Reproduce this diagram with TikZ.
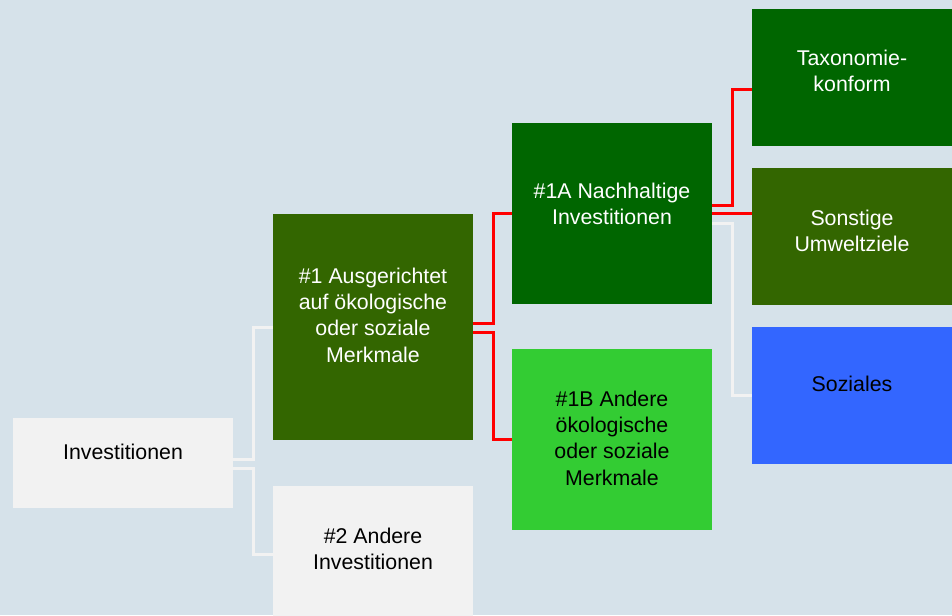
\documentclass[tikz,border=0pt]{standalone}
\usepackage{fontspec}
\setmainfont{Liberation Sans}
\usetikzlibrary{calc, positioning}

\definecolor{bgblue}{HTML}{D6E2EA}
\definecolor{lightgrey}{HTML}{F2F2F2}
\definecolor{olive}{HTML}{336600}
\definecolor{darkgreen}{HTML}{006600}
\definecolor{lightgreen}{HTML}{33CC33}
\definecolor{blue}{HTML}{3366FF}
\definecolor{redline}{HTML}{FF0000}

\begin{document}
\begin{tikzpicture}[x=0.75pt, y=-0.75pt,
  box/.style={inner sep=0pt, minimum width=150pt},
  tallbox/.style={box, minimum height=135.75pt},
  shortbox/.style={box, minimum height=102.75pt},
  txt/.style={align=center, font=\fontsize{16}{19.7}\selectfont},
  wtxt/.style={txt, text=white},
  wline/.style={draw=lightgrey, line width=2.25pt},
  rline/.style={draw=redline, line width=2.25pt}]
\useasboundingbox (0,0) rectangle (952,615);
\clip (0,0) rectangle (952,615);
\fill[bgblue] (0,0) rectangle (952,615);

% Level 0
\node[box, fill=lightgrey, minimum width=165pt, minimum height=67.5pt,
  label={[txt, yshift=8pt]center:Investitionen}] (inv) at (123,463) {};

% Level 1
\node[box, fill=olive, minimum height=169.5pt,
  label={[wtxt, yshift=9pt]center:{\#1 Ausgerichtet\\auf ökologische\\oder soziale\\Merkmale}}] (merk) at (373,327) {};
\node[box, fill=lightgrey, minimum height=102pt,
  label={[txt, yshift=4pt]center:{\#2 Andere\\Investitionen}}] (andere) at (373,554) {};

% Level 2
\node[tallbox, fill=darkgreen,
  label={[wtxt, yshift=7.5pt]center:{\#1A Nachhaltige\\Investitionen}}] (nach) at (612,213.5) {};
\node[tallbox, fill=lightgreen,
  label={[txt, yshift=1pt]center:{\#1B Andere\\ökologische\\oder soziale\\Merkmale}}] (oeko) at (612,439.5) {};

% Level 3
\node[shortbox, fill=darkgreen,
  label={[wtxt, yshift=5pt]center:{Taxonomie-\\konform}}] (taxo) at (852,77.5) {};
\node[shortbox, fill=olive,
  label={[wtxt, yshift=4pt]center:{Sonstige\\Umweltziele}}] (umwelt) at (852,236.5) {};
\node[shortbox, fill=blue,
  label={[txt, yshift=8pt]center:Soziales}] (sozial) at (852,395) {};

% connectors
\draw[wline] ($(inv.east)+(0,-4)$) -- ++(20,0) |- (merk.west);
\draw[wline] ($(inv.east)+(0,5)$) -- ++(20,0) |- (andere.west);
\draw[rline] ($(merk.east)+(0,-4)$) -- ++(20,0) |- (nach.west);
\draw[rline] ($(merk.east)+(0,5)$) -- ++(20,0) |- (oeko.west);
\draw[rline] ($(nach.east)+(0,-8.5)$) -- ++(20,0) |- ($(taxo.west)+(0,11.5)$);
\draw[rline] (nach.east) -- (nach.east -| umwelt.west);
\draw[wline] ($(nach.east)+(0,9.5)$) -- ++(20,0) |- (sozial.west);
\end{tikzpicture}
\end{document}
